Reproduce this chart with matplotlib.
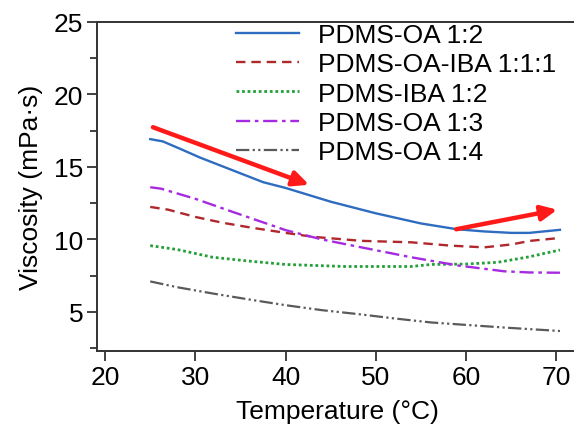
import matplotlib
matplotlib.use("Agg")
import matplotlib.pyplot as plt
from matplotlib.ticker import MultipleLocator

plt.rcParams['font.family'] = ['Liberation Sans', 'DejaVu Sans']

labels = ["PDMS-OA 1:2", "PDMS-OA-IBA 1:1:1", "PDMS-IBA 1:2", "PDMS-OA 1:3", "PDMS-OA 1:4"]

x_oa12 = [25, 26.4, 28.5, 30.5, 34, 37.5, 40, 45, 50, 55, 59, 62, 65, 67, 70.4]
y_oa12 = [16.92, 16.76, 16.2, 15.65, 14.8, 13.95, 13.55, 12.6, 11.8, 11.1, 10.7, 10.55, 10.45, 10.45, 10.66]

x_mix = [25, 27, 30, 33, 36.3, 40, 43, 48.4, 53.9, 58.3, 62, 65, 67.1, 70.4]
y_mix = [12.24, 12.05, 11.55, 11.15, 10.8, 10.45, 10.18, 9.9, 9.8, 9.57, 9.45, 9.65, 9.9, 10.1]

x_iba = [25, 28, 31.9, 36, 40, 46.6, 53.9, 56.1, 60, 63.5, 67, 70.4]
y_iba = [9.57, 9.3, 8.77, 8.5, 8.27, 8.13, 8.13, 8.27, 8.3, 8.42, 8.8, 9.27]

x_oa13 = [25, 26.2, 30, 33.8, 40, 44, 48.4, 53.9, 59.1, 64.2, 67, 70.4]
y_oa13 = [13.6, 13.5, 12.8, 11.97, 10.64, 10.0, 9.45, 8.77, 8.2, 7.8, 7.72, 7.7]

x_oa14 = [25, 28, 31.9, 36, 40, 44, 48.4, 52, 56.1, 60, 64.2, 70.4]
y_oa14 = [7.1, 6.7, 6.27, 5.85, 5.46, 5.12, 4.82, 4.55, 4.27, 4.1, 3.92, 3.68]

arrow1 = [(25.3, 17.74), (42.6, 13.77)]
arrow2 = [(58.9, 10.7), (70.1, 12.05)]

W, H = 574, 435
fig = plt.figure(figsize=(W/100, H/100), dpi=100)
ax = fig.add_axes([97/W, 1-352/H, (578-97)/W, (352-23)/H])

ax.plot(x_oa12, y_oa12, color='#2e6cc0', lw=1.7, ls='-', label=labels[0])
ax.plot(x_mix, y_mix, color='#b0282c', lw=1.7, ls=(0, (4, 2.5)), label=labels[1])
ax.plot(x_iba, y_iba, color='#24a03a', lw=2.0, ls=(0, (1, 1)), label=labels[2])
ax.plot(x_oa13, y_oa13, color='#a52ae0', lw=1.7, ls=(0, (6, 2, 1.5, 2)), label=labels[3])
ax.plot(x_oa14, y_oa14, color='#5a5a5a', lw=1.6, ls=(0, (6, 1.5, 1, 1.5, 1, 1.5)), label=labels[4])

for (s, e) in (arrow1, arrow2):
    ax.annotate('', xy=e, xytext=s,
                arrowprops=dict(arrowstyle='-|>,head_length=0.95,head_width=0.45',
                                color='#ff1a1a', lw=3.2, shrinkA=0, shrinkB=0))

ax.set_xlim(19.1, 72.4)
ax.set_ylim(2.3, 25)
ax.xaxis.set_major_locator(MultipleLocator(10))
ax.yaxis.set_major_locator(MultipleLocator(5))
ax.yaxis.set_minor_locator(MultipleLocator(2.5))
ax.tick_params(axis='both', which='major', direction='out', length=7, width=1.3, labelsize=19, pad=3, colors='#333333', labelcolor='black')
ax.tick_params(axis='y', which='minor', direction='out', length=5, width=1.3, colors='#333333')
ax.spines['right'].set_visible(False)
for s in ('left', 'bottom', 'top'):
    ax.spines[s].set_linewidth(1.4)
    ax.spines[s].set_color('#333333')

ax.set_xlabel('Temperature (°C)', fontsize=19, labelpad=7)
ax.set_ylabel('Viscosity (mPa·s)', fontsize=19, labelpad=8)

leg = ax.legend(loc='upper left', bbox_to_anchor=(236/W, 1-24/H), bbox_transform=fig.transFigure,
                frameon=False, fontsize=19, handlelength=2.4, handletextpad=0.7,
                labelspacing=0.2, borderpad=0, borderaxespad=0)

fig.savefig('out.png', dpi=100)
